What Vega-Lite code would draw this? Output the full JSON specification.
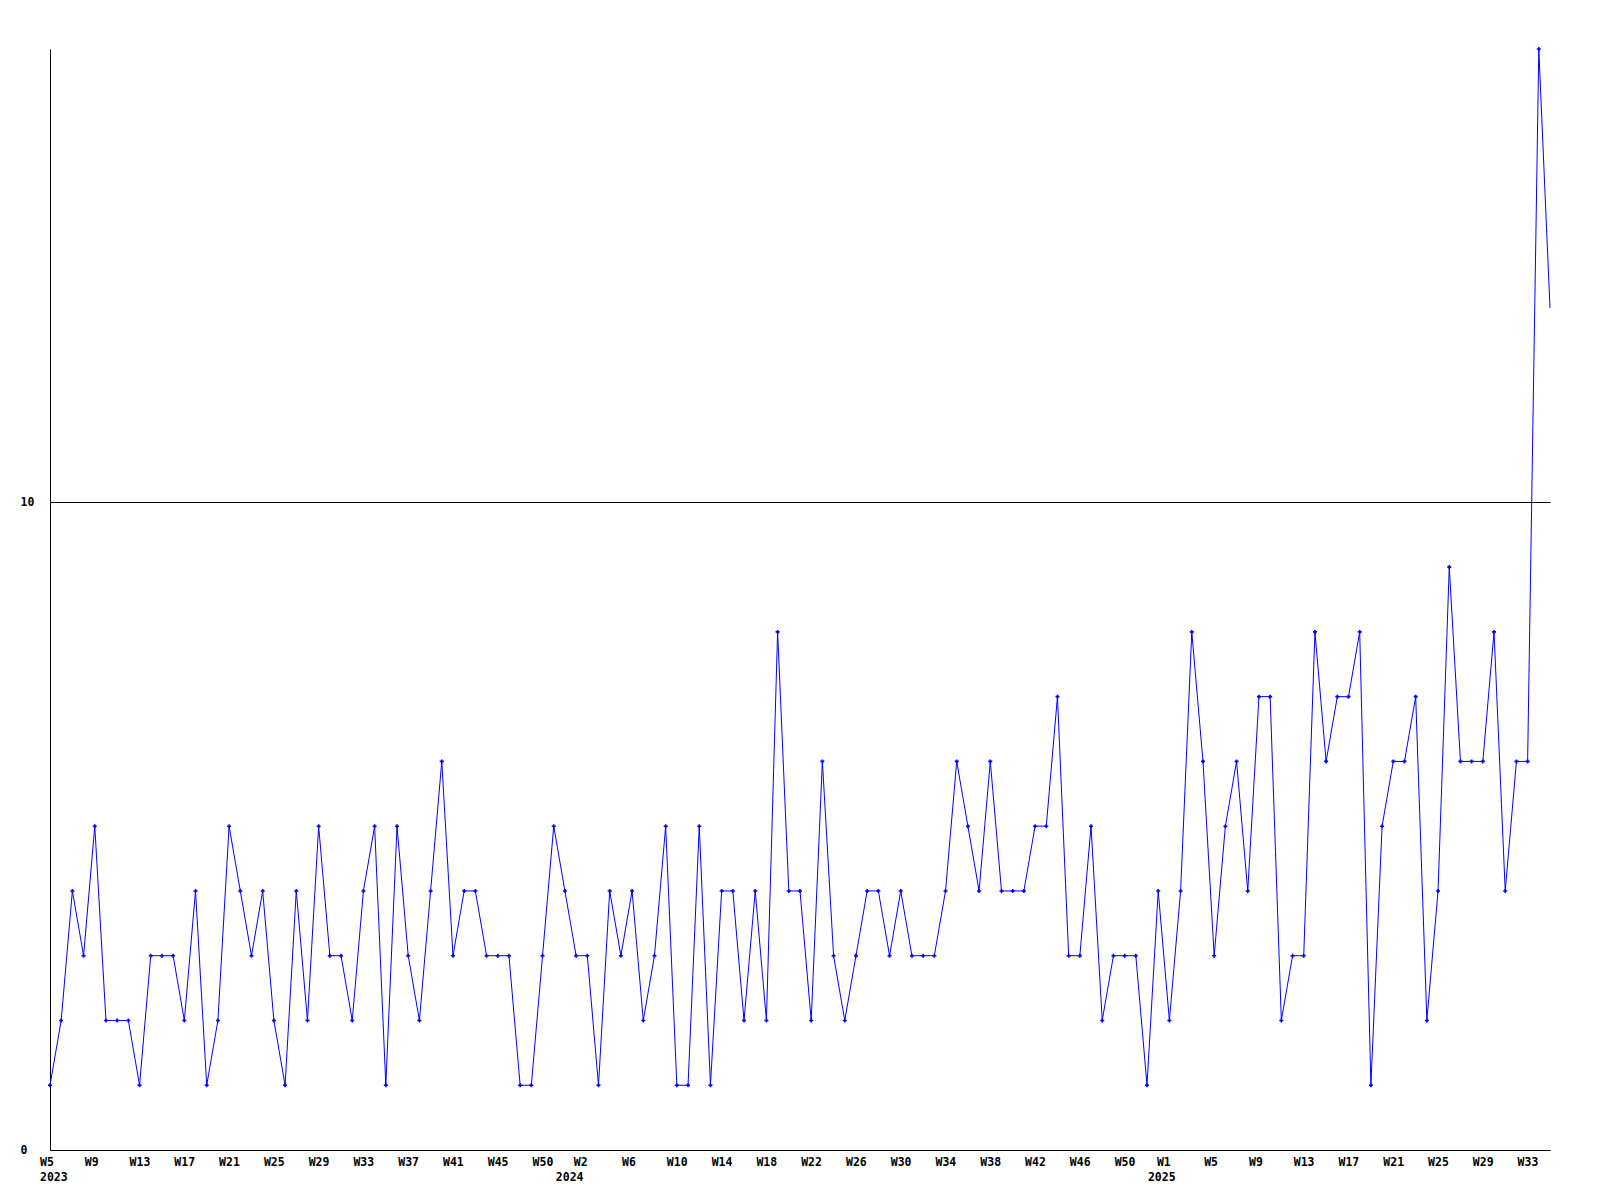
{
  "$schema": "https://vega.github.io/schema/vega-lite/v6.json",
  "width": 1500,
  "height": 1101,
  "autosize": {"type": "none"},
  "padding": {"left": 50, "top": 49, "right": 50, "bottom": 50},
  "background": "white",
  "config": {"view": {"stroke": null}},
  "data": {"values": [
    {"i":0,"v":1},{"i":1,"v":2},{"i":2,"v":4},{"i":3,"v":3},{"i":4,"v":5},{"i":5,"v":2},{"i":6,"v":2},{"i":7,"v":2},{"i":8,"v":1},{"i":9,"v":3},
    {"i":10,"v":3},{"i":11,"v":3},{"i":12,"v":2},{"i":13,"v":4},{"i":14,"v":1},{"i":15,"v":2},{"i":16,"v":5},{"i":17,"v":4},{"i":18,"v":3},{"i":19,"v":4},
    {"i":20,"v":2},{"i":21,"v":1},{"i":22,"v":4},{"i":23,"v":2},{"i":24,"v":5},{"i":25,"v":3},{"i":26,"v":3},{"i":27,"v":2},{"i":28,"v":4},{"i":29,"v":5},
    {"i":30,"v":1},{"i":31,"v":5},{"i":32,"v":3},{"i":33,"v":2},{"i":34,"v":4},{"i":35,"v":6},{"i":36,"v":3},{"i":37,"v":4},{"i":38,"v":4},{"i":39,"v":3},
    {"i":40,"v":3},{"i":41,"v":3},{"i":42,"v":1},{"i":43,"v":1},{"i":44,"v":3},{"i":45,"v":5},{"i":46,"v":4},{"i":47,"v":3},{"i":48,"v":3},{"i":49,"v":1},
    {"i":50,"v":4},{"i":51,"v":3},{"i":52,"v":4},{"i":53,"v":2},{"i":54,"v":3},{"i":55,"v":5},{"i":56,"v":1},{"i":57,"v":1},{"i":58,"v":5},{"i":59,"v":1},
    {"i":60,"v":4},{"i":61,"v":4},{"i":62,"v":2},{"i":63,"v":4},{"i":64,"v":2},{"i":65,"v":8},{"i":66,"v":4},{"i":67,"v":4},{"i":68,"v":2},{"i":69,"v":6},
    {"i":70,"v":3},{"i":71,"v":2},{"i":72,"v":3},{"i":73,"v":4},{"i":74,"v":4},{"i":75,"v":3},{"i":76,"v":4},{"i":77,"v":3},{"i":78,"v":3},{"i":79,"v":3},
    {"i":80,"v":4},{"i":81,"v":6},{"i":82,"v":5},{"i":83,"v":4},{"i":84,"v":6},{"i":85,"v":4},{"i":86,"v":4},{"i":87,"v":4},{"i":88,"v":5},{"i":89,"v":5},
    {"i":90,"v":7},{"i":91,"v":3},{"i":92,"v":3},{"i":93,"v":5},{"i":94,"v":2},{"i":95,"v":3},{"i":96,"v":3},{"i":97,"v":3},{"i":98,"v":1},{"i":99,"v":4},
    {"i":100,"v":2},{"i":101,"v":4},{"i":102,"v":8},{"i":103,"v":6},{"i":104,"v":3},{"i":105,"v":5},{"i":106,"v":6},{"i":107,"v":4},{"i":108,"v":7},{"i":109,"v":7},
    {"i":110,"v":2},{"i":111,"v":3},{"i":112,"v":3},{"i":113,"v":8},{"i":114,"v":6},{"i":115,"v":7},{"i":116,"v":7},{"i":117,"v":8},{"i":118,"v":1},{"i":119,"v":5},
    {"i":120,"v":6},{"i":121,"v":6},{"i":122,"v":7},{"i":123,"v":2},{"i":124,"v":4},{"i":125,"v":9},{"i":126,"v":6},{"i":127,"v":6},{"i":128,"v":6},{"i":129,"v":8},
    {"i":130,"v":4},{"i":131,"v":6},{"i":132,"v":6},{"i":133,"v":17},{"i":134,"v":13}
  ]},
  "encoding": {
    "x": {
      "field": "i", "type": "quantitative",
      "scale": {"domain": [0, 134], "nice": false, "zero": false},
      "axis": {
        "values": [0,4,8,12,16,20,24,28,32,36,40,44,48,52,56,60,64,68,72,76,80,84,88,92,96,100,104,108,112,116,120,124,128,132],
        "labelExpr": "[['W5','2023'],'W9','W13','W17','W21','W25','W29','W33','W37','W41','W45','W50',['\u2800\u2800W2','2024'],'W6','W10','W14','W18','W22','W26','W30','W34','W38','W42','W46','W50',['\u2800W1','2025'],'W5','W9','W13','W17','W21','W25','W29','W33'][round(datum.value/4)]",
        "title": null,
        "grid": false,
        "ticks": false,
        "tickSize": 0,
        "domainColor": "black",
        "domainWidth": 1,
        "labelAlign": "left",
        "labelOffset": {"condition": [{"test": "datum.value == 48", "value": -32}, {"test": "datum.value == 100", "value": -22}], "value": -10.5},
        "labelPadding": 6,
        "labelFont": "DejaVu Sans Mono",
        "labelFontWeight": "bold",
        "labelFontSize": 11.5,
        "labelColor": "black",
        "labelLineHeight": 15,
        "labelOverlap": false,
        "labelFlush": false,
        "labelBound": false
      }
    },
    "y": {
      "field": "v", "type": "quantitative",
      "scale": {"domain": [0, 17], "nice": false, "zero": true},
      "axis": {
        "values": [0, 10],
        "title": null,
        "grid": true,
        "gridColor": "black",
        "gridOpacity": 1,
        "gridWidth": 1,
        "ticks": false,
        "tickSize": 0,
        "domainColor": "black",
        "domainWidth": 1,
        "labelAlign": "left",
        "labelBaseline": "middle",
        "labelPadding": 30,
        "labelFont": "DejaVu Sans Mono",
        "labelFontWeight": "bold",
        "labelFontSize": 11.5,
        "labelColor": "black",
        "labelOverlap": false,
        "labelFlush": false,
        "labelBound": false
      }
    }
  },
  "layer": [
    {"mark": {"type": "line", "color": "#0000ff", "strokeWidth": 1}},
    {
      "transform": [{"filter": "datum.i < 134"}],
      "mark": {"type": "point", "shape": "cross", "filled": true, "size": 16, "color": "#0000ff", "opacity": 1}
    }
  ]
}
